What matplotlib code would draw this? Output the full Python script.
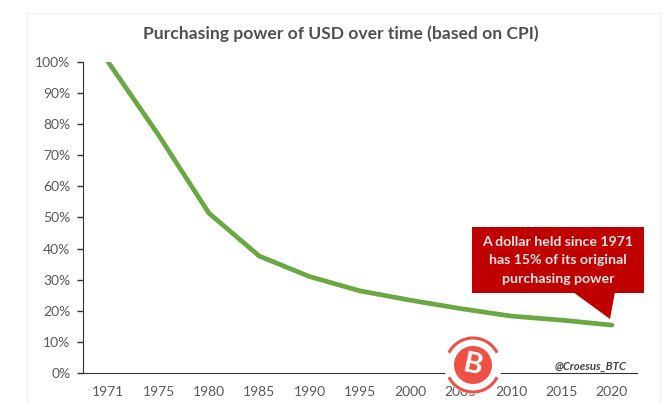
import matplotlib
matplotlib.use("Agg")
import matplotlib.pyplot as plt
from matplotlib.patches import Circle, Polygon, Rectangle, Arc

plt.rcParams['font.family'] = ['Lato', 'DejaVu Sans']

years = ['1971', '1975', '1980', '1985', '1990', '1995', '2000', '2005', '2010', '2015', '2020']
power = [100, 76.5, 51.4, 37.6, 31, 26.4, 23.4, 20.7, 18.3, 17, 15.4]
y_ticks = [0, 10, 20, 30, 40, 50, 60, 70, 80, 90, 100]

W, H = 667, 405
fig = plt.figure(figsize=(W / 100, H / 100), dpi=100, facecolor='white')

# overlay in pixel coords, y going down, same as the reference
over = fig.add_axes([0, 0, 1, 1], zorder=3)
over.set_xlim(0, W)
over.set_ylim(H, 0)
over.axis('off')
over.patch.set_alpha(0)

# chart frame
under = fig.add_axes([0, 0, 1, 1], zorder=0)
under.set_xlim(0, W)
under.set_ylim(H, 0)
under.axis('off')
under.add_patch(Rectangle((27, 13), 633, 400, fc='white', ec='#efefef', lw=0.8))

ax = fig.add_axes([83 / W, 1 - 373 / H, (637 - 83) / W, (373 - 62) / H], zorder=1)
ax.patch.set_alpha(0)
x = list(range(len(years)))
ax.plot(x, power, color='#6aa842', lw=3.4, solid_capstyle='round', solid_joinstyle='round')
ax.set_xlim(-0.5, len(years) - 0.5)
ax.set_ylim(0, 100)
ax.set_xticks(x, years)
ax.set_yticks(y_ticks, [f'{v}%' for v in y_ticks])
ax.tick_params(axis='x', length=0, pad=9, labelsize=10, labelcolor='#595959')
ax.tick_params(axis='y', length=4, width=1, color='#333333', pad=5, labelsize=10, labelcolor='#595959')
ax.spines['top'].set_visible(False)
ax.spines['right'].set_visible(False)
ax.spines['left'].set_color('#333333')
ax.spines['bottom'].set_color('#333333')

over.text(340.5, 34, 'Purchasing power of USD over time (based on CPI)', ha='center', va='center',
          fontsize=12.6, fontweight='bold', color='#505050')

# red callout
red = '#c00000'
over.add_patch(Rectangle((472, 227), 172, 66, fc=red, ec='none'))
over.add_patch(Polygon([(573, 292), (615, 292), (610, 319)], fc=red, ec='none'))
callout_lines = ['A dollar held since 1971', 'has 15% of its original', 'purchasing power']
for i, line in enumerate(callout_lines):
    over.text(558, 242 + i * 18.5, line, ha='center', va='center', fontsize=10.2,
              fontweight='bold', color='#f5e6e6')

over.text(591, 366, '@Croesus_BTC', ha='center', va='center', fontsize=8.2,
          fontweight='bold', style='italic', color='#444444')

# watermark logo
logo = '#ee5045'
over.add_patch(Circle((473, 365), 29, fc='white', ec='none'))
over.add_patch(Circle((473, 365), 19, fc=logo, ec='none'))
over.add_patch(Arc((473, 365), 54, 54, theta1=207, theta2=333, ec=logo, lw=2.2))
over.add_patch(Arc((473, 365), 54, 54, theta1=27, theta2=153, ec=logo, lw=2.2))
over.text(473, 365, 'B', ha='center', va='center', fontsize=21, fontweight='bold',
          color='white', rotation=-12)

fig.savefig('out.png', dpi=100)
